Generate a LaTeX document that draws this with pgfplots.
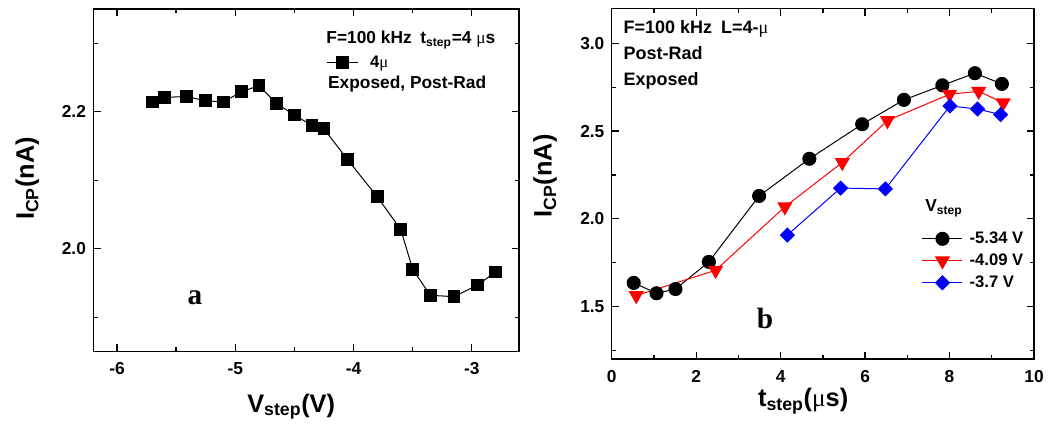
\documentclass[border=0pt]{standalone}
\usepackage{fontspec}
\setmainfont{Liberation Sans}
\newfontfamily\seriff{Liberation Serif}
\usepackage{pgfplots}
\pgfplotsset{compat=1.18}
\newcommand{\um}{{\seriff\mdseries μ}}
\definecolor{myred}{RGB}{255,0,0}
\definecolor{myblue}{RGB}{0,0,255}

\pgfplotstableread{
x y
-5.70 2.214
-5.60 2.221
-5.41 2.222
-5.25 2.216
-5.10 2.214
-4.95 2.229
-4.80 2.238
-4.65 2.212
-4.50 2.195
-4.35 2.180
-4.25 2.175
-4.05 2.130
-3.80 2.076
-3.60 2.028
-3.50 1.970
-3.35 1.932
-3.15 1.930
-2.95 1.947
-2.80 1.966
}\tabA

\pgfplotstableread{
x y
0.52 1.634
1.06 1.575
1.51 1.599
2.30 1.754
3.49 2.130
4.68 2.342
5.93 2.539
6.92 2.678
7.83 2.761
8.60 2.830
9.24 2.769
}\tabBk

\pgfplotstableread{
x y
0.58 1.562
2.46 1.706
4.10 2.068
5.46 2.321
6.53 2.560
8.00 2.710
8.69 2.727
9.27 2.661
}\tabBr

\pgfplotstableread{
x y
4.16 1.907
5.42 2.175
6.48 2.170
8.01 2.643
8.66 2.626
9.21 2.594
}\tabBb

\pgfplotsset{
  myaxis/.style={
    scale only axis, anchor=south west, clip=false,
    axis line style={line width=1pt},
    major tick length=5.5pt, minor tick length=3.2pt,
    every major tick/.append style={black, line width=1pt},
    every minor tick/.append style={black, line width=1pt},
    tick align=inside, xtick pos=both, ytick pos=both,
    ticklabel style={font=\fontsize{13}{15}\selectfont\bfseries},
    xticklabel style={yshift=-5pt},
    yticklabel style={xshift=-2pt},
    /pgf/number format/assume math mode=true,
    label style={font=\fontsize{19}{22}\selectfont\bfseries, inner sep=0pt},
  },
}

\begin{document}
\begin{tikzpicture}
\useasboundingbox (0,0) rectangle (787.5pt,319.5pt);
% ---------- panel a ----------
\begin{axis}[myaxis, at={(70pt,55.9pt)}, width=319.3pt, height=256.9pt,
  xmin=-6.2, xmax=-2.6, ymin=1.85, ymax=2.35,
  xtick={-6,-5,-4,-3}, minor xtick={-5.5,-4.5,-3.5},
  ytick={2.0,2.2}, minor ytick={1.9,2.1,2.3},
  yticklabel style={/pgf/number format/.cd, fixed, fixed zerofill, precision=1},
  xlabel={V\textsubscript{step}(V)},
  xlabel style={at={(rel axis cs:0.361,-0.177)}, anchor=base west},
  ylabel={I\textsubscript{CP}(nA)},
  ylabel style={at={(rel axis cs:-0.155,0.505)}, anchor=center, rotate=0},
  legend style={at={(rel axis cs:0.547,0.843)}, anchor=west, draw=none, fill=none,
    inner sep=0pt, font=\fontsize{12.5}{14}\selectfont\bfseries,
    nodes={inner sep=1pt}},
  legend image code/.code={\draw[mark repeat=2,mark phase=2,#1] plot coordinates {(0pt,0pt) (11.5pt,0pt) (23pt,0pt)};},
]
\addplot[black, line width=0.75pt, mark=square*, mark size=4.4pt, mark options={solid, fill=black}] table[x=x,y=y] {\tabA};
\addlegendentry{\hspace{8pt}4\um}
\node[anchor=base west, inner sep=0pt, font=\fontsize{13}{15}\selectfont\bfseries] at (rel axis cs:0.547,0.898) {F=100 kHz\enspace t\textsubscript{step}=4 \um s};
\node[anchor=base west, inner sep=0pt, font=\fontsize{13}{15}\selectfont\bfseries] at (rel axis cs:0.551,0.768) {Exposed, Post-Rad};
\node[anchor=base west, inner sep=0pt, font=\fontsize{22}{24}\selectfont\seriff\bfseries] at (rel axis cs:0.221,0.136) {a};
\end{axis}
% ---------- panel b ----------
\begin{axis}[myaxis, at={(458.8pt,50.25pt)}, width=316.7pt, height=263pt,
  xmin=0, xmax=10, ymin=1.2, ymax=3.2,
  xtick={0,2,4,6,8,10}, minor xtick={1,3,5,7,9},
  ytick={1.5,2.0,2.5,3.0}, minor ytick={1.25,1.75,2.25,2.75},
  yticklabel style={/pgf/number format/.cd, fixed, fixed zerofill, precision=1},
  xlabel={t\textsubscript{step}(\um s)},
  xlabel style={at={(rel axis cs:0.346,-0.136)}, anchor=base west},
  ylabel={I\textsubscript{CP}(nA)},
  ylabel style={at={(rel axis cs:-0.158,0.522)}, anchor=center, rotate=0},
  legend style={at={(rel axis cs:0.734,0.28)}, anchor=west, draw=none, fill=none,
    inner sep=0pt, font=\fontsize{12.5}{14}\selectfont\bfseries,
    nodes={inner sep=1pt, text height=9pt, text depth=2pt}, row sep=3.5pt},
  legend cell align=left,
  legend image code/.code={\draw[mark repeat=2,mark phase=2,#1] plot coordinates {(0pt,0pt) (15pt,0pt) (30pt,0pt)};},
]
\addplot[black, line width=0.75pt, mark=*, mark size=4.9pt, mark options={solid, fill=black}] table[x=x,y=y] {\tabBk};
\addlegendentry{\hspace{4pt}-5.34 V}
\addplot[myred, line width=0.75pt, mark=triangle*, mark size=5.8pt, mark options={solid, fill=myred, rotate=180}] table[x=x,y=y] {\tabBr};
\addlegendentry{\hspace{4pt}-4.09 V}
\addplot[myblue, line width=0.75pt, mark=diamond*, mark size=5.2pt, mark options={solid, fill=myblue, xscale=1.33}] table[x=x,y=y] {\tabBb};
\addlegendentry{\hspace{4pt}-3.7 V}
\node[anchor=base west, inner sep=0pt, font=\fontsize{13.5}{15}\selectfont\bfseries] at (rel axis cs:0.0275,0.929) {F=100 kHz\enspace L=4-\um};
\node[anchor=base west, inner sep=0pt, font=\fontsize{13.5}{15}\selectfont\bfseries] at (rel axis cs:0.0275,0.853) {Post-Rad};
\node[anchor=base west, inner sep=0pt, font=\fontsize{13.5}{15}\selectfont\bfseries] at (rel axis cs:0.0275,0.781) {Exposed};
\node[anchor=base west, inner sep=0pt, font=\fontsize{13}{15}\selectfont\bfseries] at (rel axis cs:0.742,0.42) {V\textsubscript{step}};
\node[anchor=base west, inner sep=0pt, font=\fontsize{22}{24}\selectfont\seriff\bfseries] at (rel axis cs:0.343,0.0875) {b};
\end{axis}
\end{tikzpicture}
\end{document}
